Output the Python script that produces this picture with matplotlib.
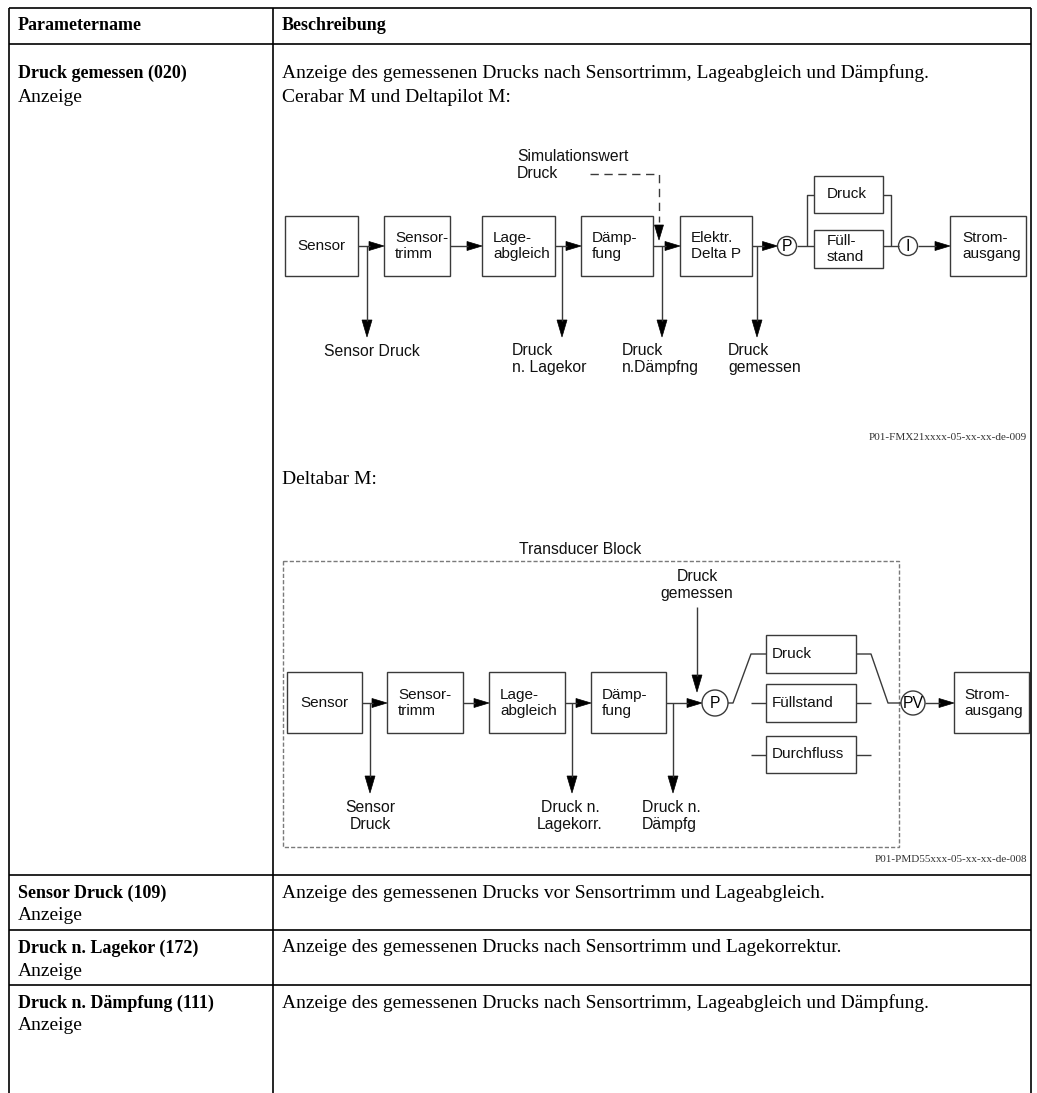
import matplotlib
matplotlib.use("Agg")
import matplotlib.pyplot as plt
from matplotlib.patches import Rectangle, Circle, Polygon

# ---------------- data (texts) ----------------
header = ["Parametername", "Beschreibung"]
param_names = ["Druck gemessen (020)", "Sensor Druck (109)",
               "Druck n. Lagekor (172)", "Druck n. Dämpfung (111)"]
param_access = ["Anzeige", "Anzeige", "Anzeige", "Anzeige"]
descriptions = [
    "Anzeige des gemessenen Drucks nach Sensortrimm, Lageabgleich und Dämpfung.",
    "Anzeige des gemessenen Drucks vor Sensortrimm und Lageabgleich.",
    "Anzeige des gemessenen Drucks nach Sensortrimm und Lagekorrektur.",
    "Anzeige des gemessenen Drucks nach Sensortrimm, Lageabgleich und Dämpfung.",
]
device1 = "Cerabar M und Deltapilot M:"
device2 = "Deltabar M:"
fig_ids = ["P01-FMX21xxxx-05-xx-xx-de-009", "P01-PMD55xxx-05-xx-xx-de-008"]

chain1_blocks = ["Sensor", "Sensor-\ntrimm", "Lage-\nabgleich", "Dämp-\nfung", "Elektr.\nDelta P"]
chain1_taps = ["Sensor Druck", "Druck\nn. Lagekor", "Druck\nn.Dämpfng", "Druck\ngemessen"]
chain1_sim = "Simulationswert\nDruck"
chain1_modes = ["Druck", "Füll-\nstand"]
chain1_circles = ["P", "I"]
output_block = "Strom-\nausgang"

chain2_title = "Transducer Block"
chain2_blocks = ["Sensor", "Sensor-\ntrimm", "Lage-\nabgleich", "Dämp-\nfung"]
chain2_taps = ["Sensor\nDruck", "Druck n.\nLagekorr.", "Druck n.\nDämpfg"]
chain2_input = "Druck\ngemessen"
chain2_modes = ["Druck", "Füllstand", "Durchfluss"]
chain2_circles = ["P", "PV"]

# ---------------- canvas ----------------
W, H = 1037, 1093
fig = plt.figure(figsize=(W / 100, H / 100), dpi=100)
ax = fig.add_axes([0, 0, 1, 1])
ax.set_xlim(0, W)
ax.set_ylim(H, 0)
ax.axis("off")

SERIF = ["Liberation Serif", "DejaVu Serif"]
SANS = ["Liberation Sans", "DejaVu Sans"]
LC = "#3a3a3a"
FS = 11.3  # diagram font size
FSB = 11   # text inside blocks

def line(xs, ys, **kw):
    kw.setdefault("color", LC)
    kw.setdefault("lw", 1.0)
    ax.plot(xs, ys, solid_capstyle="butt", **kw)

def box(x0, x1, y0, y1):
    ax.add_patch(Rectangle((x0, y0), x1 - x0, y1 - y0, fill=False, ec=LC, lw=1.0))

def circ(x, y, r, label):
    ax.add_patch(Circle((x, y), r, fill=False, ec=LC, lw=1.0))
    ax.text(x, y + 0.5, label, ha="center", va="center", fontsize=FS, family=SANS)

def head_h(x_tip, y, L=15, hw=4.5):
    ax.add_patch(Polygon([(x_tip - L, y - hw), (x_tip - L, y + hw), (x_tip, y)],
                         closed=True, fc="black", ec="black", lw=0.5))

def head_v(x, y_tip, L=17, hw=5):
    ax.add_patch(Polygon([(x - hw, y_tip - L), (x + hw, y_tip - L), (x, y_tip)],
                         closed=True, fc="black", ec="black", lw=0.5))

def btext(x, y, s, ha="left", fs=FS):
    ax.text(x, y, s, ha=ha, va="center", fontsize=fs, family=SANS,
            linespacing=1.1, color="#111111")

# ---------------- table ----------------
TL, TR, TD = 9, 1031, 273
row_lines = [8, 44, 875, 930, 985]
for y in row_lines:
    line([TL, TR], [y, y], color="black", lw=1.2)
for x in (TL, TD, TR):
    line([x, x], [8, H], color="black", lw=1.2)

ax.text(18, 26, header[0], ha="left", va="center", fontsize=13, weight="bold", family=SERIF)
ax.text(282, 26, header[1], ha="left", va="center", fontsize=13, weight="bold", family=SERIF)

row_text_y = [73, 893, 948, 1003]
row_gap = [24, 23, 23, 23]
for i in range(4):
    y = row_text_y[i]
    ax.text(18, y, param_names[i], ha="left", va="center", fontsize=13,
            weight="bold", family=SERIF)
    ax.text(18, y + row_gap[i], param_access[i], ha="left", va="center",
            fontsize=14, family=SERIF)
    ax.text(282, y, descriptions[i], ha="left", va="center", fontsize=14, family=SERIF)

ax.text(282, 97, device1, ha="left", va="center", fontsize=14, family=SERIF)
ax.text(282, 480, device2, ha="left", va="center", fontsize=14, family=SERIF)
ax.text(1027, 437, fig_ids[0], ha="right", va="center", fontsize=8, family=SERIF, color="#333333")
ax.text(1027, 860, fig_ids[1], ha="right", va="center", fontsize=8, family=SERIF, color="#333333")

# ---------------- diagram 1 ----------------
y1 = 246
b1 = [(285, 358), (384, 450), (482, 555), (581, 653), (680, 752)]
for (x0, x1), lab in zip(b1, chain1_blocks):
    box(x0, x1, 216, 276)
    if "\n" in lab:
        btext(x0 + 11, y1, lab, fs=FSB)
    else:
        btext((x0 + x1) / 2, y1, lab, ha="center", fs=FSB)

for k in range(4):
    xa, xb = b1[k][1], b1[k + 1][0]
    line([xa, xb - 14], [y1, y1])
    head_h(xb, y1)

taps1_x = [367, 562, 662, 757]
tap_tip1 = 337
for bx in taps1_x:
    line([bx, bx], [y1, tap_tip1 - 16])
    head_v(bx, tap_tip1)
btext(372, 351, chain1_taps[0], ha="center")
btext(512, 359, chain1_taps[1])
btext(622, 359, chain1_taps[2])
btext(728, 359, chain1_taps[3])

# simulation input (dashed)
btext(517, 165, chain1_sim)
line([590, 659, 659], [174, 174, 222], ls=(0, (6, 4)), lw=1.0)
head_v(659, 240, L=15, hw=4.5)

# Elektr -> P
pcx, rc = 787, 9.5
line([752, pcx - rc - 14], [y1, y1])
head_h(pcx - rc, y1)
circ(pcx, y1, rc, chain1_circles[0])

m1 = [(176, 213), (230, 268)]
for (ya, yb), lab in zip(m1, chain1_modes):
    box(814, 883, ya, yb)
    btext(827, (ya + yb) / 2, lab, fs=FSB)
yd = (m1[0][0] + m1[0][1]) / 2
line([pcx + rc, 814], [y1, y1])
line([807, 807, 814], [y1, yd, yd])
icx = 908
line([883, 891, 891], [yd, yd, y1])
line([883, icx - rc], [y1, y1])
circ(icx, y1, rc, chain1_circles[1])
line([icx + rc, 950 - 14], [y1, y1])
head_h(950, y1)
box(950, 1026, 216, 276)
btext(962, y1, output_block, fs=FSB)

# ---------------- diagram 2 ----------------
ax.add_patch(Rectangle((283, 561), 899 - 283, 847 - 561, fill=False,
                       ec="#7a7a7a", lw=1.0, ls=(0, (3, 1.5))))
btext(580, 549, chain2_title, ha="center")

y2 = 703
b2 = [(287, 362), (387, 463), (489, 565), (591, 666)]
for (x0, x1), lab in zip(b2, chain2_blocks):
    box(x0, x1, 672, 733)
    if "\n" in lab:
        btext(x0 + 11, y2, lab, fs=FSB)
    else:
        btext((x0 + x1) / 2, y2, lab, ha="center", fs=FSB)
for k in range(3):
    xa, xb = b2[k][1], b2[k + 1][0]
    line([xa, xb - 14], [y2, y2])
    head_h(xb, y2)

taps2_x = [370, 572, 673]
tap_tip2 = 793
for bx in taps2_x:
    line([bx, bx], [y2, tap_tip2 - 16])
    head_v(bx, tap_tip2)
btext(370, 816, chain2_taps[0], ha="center")
btext(570, 816, chain2_taps[1], ha="center")
btext(642, 816, chain2_taps[2])

p2x, r2 = 715, 13
line([666, p2x - r2 - 14], [y2, y2])
head_h(p2x - r2, y2)
circ(p2x, y2, r2, chain2_circles[0])

btext(697, 585, chain2_input, ha="center")
line([697, 697], [607, 676])
head_v(697, 692)

m2 = [(635, 673), (684, 722), (736, 773)]
for (ya, yb), lab in zip(m2, chain2_modes):
    box(766, 856, ya, yb)
    btext(772, (ya + yb) / 2, lab, fs=FSB)
yd2 = (m2[0][0] + m2[0][1]) / 2
for (ya, yb) in m2[1:]:
    yc = (ya + yb) / 2
    line([751, 766], [yc, yc])
    line([856, 871], [yc, yc])
line([p2x + r2, 733, 751, 766], [y2, y2, yd2, yd2])
pvx, rpv = 913, 12
line([856, 871, 888, pvx - rpv], [yd2, yd2, y2, y2])
circ(pvx, y2, rpv, chain2_circles[1])
line([pvx + rpv, 954 - 14], [y2, y2])
head_h(954, y2)
box(954, 1029, 672, 733)
btext(964, y2, output_block, fs=FSB)

fig.savefig("out.png", dpi=100)
